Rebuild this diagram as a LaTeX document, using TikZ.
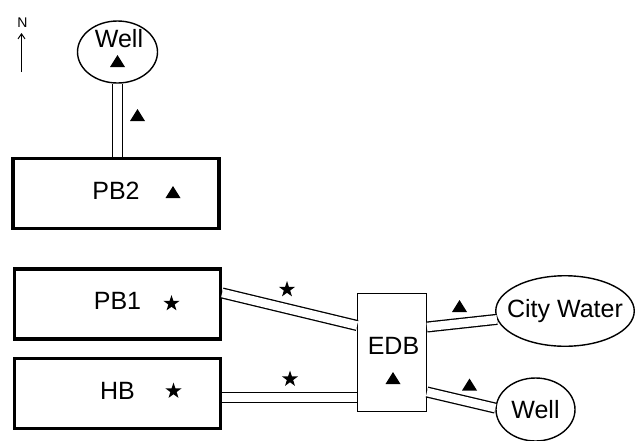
\documentclass[tikz,border=0pt]{standalone}
\usepackage{fontspec}
\setmainfont{Liberation Sans}
\usetikzlibrary{shapes.geometric,arrows.meta}
\begin{document}
\begin{tikzpicture}[x=1pt,y=-1pt,
  big/.style={font=\fontsize{25}{30}\selectfont},
  box/.style={draw,line width=3.3pt,minimum width=206pt,minimum height=70pt,inner sep=0pt,text depth=6pt,big},
  edbbox/.style={draw,line width=1.4pt,minimum width=68.5pt,minimum height=117.5pt,inner sep=0pt},
  vessel/.style={draw,ellipse,line width=1.4pt,inner sep=0pt},
  lbl/.style={inner sep=0pt,big},
  pipe/.style={line width=1.3pt,double=white,double distance=8.5pt},
  tri/.pic={\fill (-7.5,6) -- (7.5,6) -- (0,-6) -- cycle;},
  starmark/.pic={\fill (-90:8.5) -- (-54:3.3) -- (-18:8.5) -- (18:3.3) -- (54:8.5)
     -- (90:3.3) -- (126:8.5) -- (162:3.3) -- (198:8.5) -- (234:3.3) -- cycle;}
]
\useasboundingbox (0,0) rectangle (637,440);
\clip (0,0) rectangle (637,440);

% north arrow
\node[inner sep=0pt,font=\fontsize{14}{16}\selectfont] (nlabel) at (22.5,23) {N};
\coordinate (ntail) at (21.5,72);
\coordinate (nhead) at (21.5,33);
\draw[line width=1pt,-{Straight Barb[length=5pt,width=7pt]}] (ntail) -- (nhead);

% top well and PB2
\node[vessel,minimum width=80pt,minimum height=62pt] (w1) at (117.5,52) {};
\node[lbl] (w1t) at (119,39) {Well};
\pic at (117.5,61) {tri};
\node[box] (pb2) at (116,193.5) {PB2};
\draw[pipe] (w1.south) -- (w1.south |- pb2.north);
\pic at (137.5,115) {tri};
\pic at (173,192) {tri};

% PB1 and HB
\node[box] (pb1) at (117.5,304) {PB1};
\pic at (171.5,303.5) {starmark};
\node[box] (hb) at (117.5,393.5) {HB};
\pic at (173.5,391) {starmark};

% EDB
\node[edbbox] (edb) at (392,352.5) {};
\node[lbl] (edbt) at (393.5,346) {EDB};
\pic at (393,378) {tri};

% City water and lower well
\node[vessel,minimum width=138.5pt,minimum height=70.5pt,
      label={[lbl]center:City Water}] (cw) at (565,311) {};
\node[vessel,minimum width=79pt,minimum height=63pt,
      label={[lbl]center:Well}] (w2) at (535.5,409.5) {};

% pipes
\draw[pipe] ([yshift=11pt]pb1.east) -- ([yshift=27pt]edb.west);
\pic at (287,289.5) {starmark};
\draw[pipe] ([yshift=-4pt]hb.east) -- ([yshift=-4pt]hb.east -| edb.west);
\pic at (290,379) {starmark};
\draw[pipe] ([yshift=25.5pt]edb.east) -- (cw.187);
\pic at (459.5,306) {tri};
\draw[pipe] ([yshift=-39.5pt]edb.east) -- (w2.178);
\pic at (469.5,384.5) {tri};
\end{tikzpicture}
\end{document}
